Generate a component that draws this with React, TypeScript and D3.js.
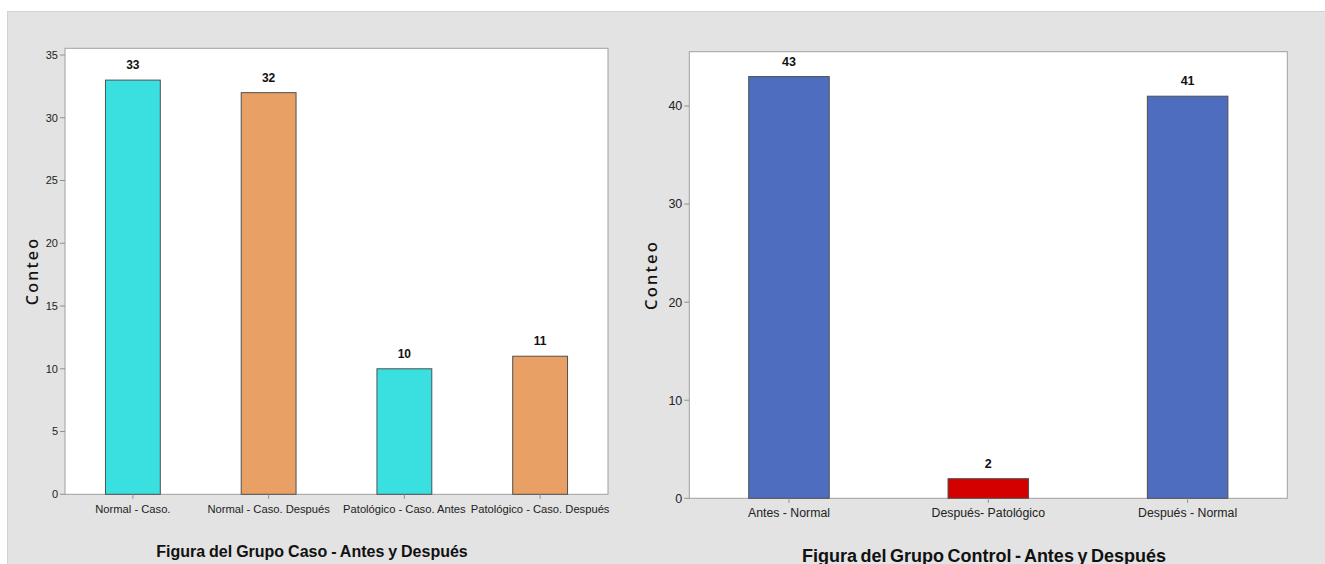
import React from "react";
import * as d3 from "d3";

const leftCategories = [
  "Normal - Caso.",
  "Normal - Caso. Después",
  "Patológico - Caso. Antes",
  "Patológico - Caso. Después",
];
const leftValues = [33, 32, 10, 11];
const leftColors = ["#3adfe0", "#e8a065", "#3adfe0", "#e8a065"];
const leftTicks = [0, 5, 10, 15, 20, 25, 30, 35];
const leftTitle = "Figura del Grupo Caso - Antes y Después";

const rightCategories = ["Antes - Normal", "Después- Patológico", "Después - Normal"];
const rightValues = [43, 2, 41];
const rightColors = ["#4e6dbf", "#d40000", "#4e6dbf"];
const rightTicks = [0, 10, 20, 30, 40];
const rightTitle = "Figura del Grupo Control - Antes y Después";

const axisTitle = "Conteo";
const FONT = "'Liberation Sans', Arial, sans-serif";

type PanelProps = {
  categories: string[];
  values: number[];
  colors: string[];
  ticks: number[];
  title: string;
  x0: number;
  x1: number;
  top: number;
  base: number;
  yMaxTick: number;
  yMaxTickPos: number;
  tickFont: number;
  catFont: number;
  valFont: number;
  axisTitleX: number;
  axisTitleY: number;
  axisTitleFont: number;
  titleX: number;
  titleY: number;
  titleFont: number;
  titleWordSpacing: number;
};

function Panel(p: PanelProps) {
  const y = d3.scaleLinear().domain([0, p.yMaxTick]).range([p.base, p.yMaxTickPos]);
  const x = d3.scaleBand<string>().domain(p.categories).range([p.x0, p.x1]).padding(0);
  const bw = x.bandwidth() * 0.404;
  return (
    <g>
      <rect x={p.x0} y={p.top} width={p.x1 - p.x0} height={p.base - p.top} fill="#ffffff" stroke="#a0a0a0" strokeWidth={1} />
      {p.ticks.map((t) => (
        <g key={t}>
          <line x1={p.x0 - 5} x2={p.x0} y1={y(t)} y2={y(t)} stroke="#909090" strokeWidth={1} />
          <text x={p.x0 - 7} y={y(t)} dy="0.35em" textAnchor="end" fontSize={p.tickFont} fontFamily={FONT} fill="#222">
            {t}
          </text>
        </g>
      ))}
      {p.categories.map((c, i) => {
        const cx = (x(c) as number) + x.bandwidth() / 2;
        const v = p.values[i];
        return (
          <g key={c}>
            <rect x={cx - bw / 2} y={y(v)} width={bw} height={p.base - y(v)} fill={p.colors[i]} stroke="#505050" strokeWidth={1} />
            <text x={cx} y={y(v) - 11} textAnchor="middle" fontSize={p.valFont} fontWeight="bold" fontFamily={FONT} fill="#111">
              {v}
            </text>
            <line x1={cx} x2={cx} y1={p.base} y2={p.base + 4.5} stroke="#909090" strokeWidth={1} />
            <text x={cx} y={p.base + 18.5} textAnchor="middle" fontSize={p.catFont} fontFamily={FONT} fill="#222">
              {c}
            </text>
          </g>
        );
      })}
      <text
        transform={`translate(${p.axisTitleX},${p.axisTitleY}) rotate(-90)`}
        textAnchor="middle"
        dy="0.35em"
        fontSize={p.axisTitleFont}
        letterSpacing={2.2}
        fontWeight={500}
        fontFamily="'Noto Sans', 'Open Sans', sans-serif"
        fill="#111"
      >
        {axisTitle}
      </text>
      <text
        x={p.titleX}
        y={p.titleY}
        textAnchor="middle"
        fontSize={p.titleFont}
        fontWeight="bold"
        wordSpacing={p.titleWordSpacing}
        fontFamily={FONT}
        fill="#111"
      >
        {p.title}
      </text>
    </g>
  );
}

export default function App() {
  return (
    <svg width={1325} height={564} style={{ position: "absolute", left: 0, top: 0, display: "block" }}>
      <rect x={0} y={0} width={1325} height={564} fill="#ffffff" />
      <rect x={7} y={11} width={1318} height={553} fill="#e3e3e3" />
      <line x1={7} x2={1325} y1={11.5} y2={11.5} stroke="#d2d2d2" />
      <line x1={7.5} x2={7.5} y1={11} y2={564} stroke="#d2d2d2" />
      <Panel
        categories={leftCategories}
        values={leftValues}
        colors={leftColors}
        ticks={leftTicks}
        title={leftTitle}
        x0={65}
        x1={608}
        top={48.3}
        base={494.3}
        yMaxTick={35}
        yMaxTickPos={55}
        tickFont={11}
        catFont={11.2}
        valFont={12}
        axisTitleX={32.5}
        axisTitleY={271}
        axisTitleFont={16}
        titleX={312}
        titleY={557}
        titleFont={16}
        titleWordSpacing={-0.5}
      />
      <Panel
        categories={rightCategories}
        values={rightValues}
        colors={rightColors}
        ticks={rightTicks}
        title={rightTitle}
        x0={689.3}
        x1={1287.3}
        top={51.7}
        base={498.3}
        yMaxTick={40}
        yMaxTickPos={106}
        tickFont={12.5}
        catFont={12.3}
        valFont={12.5}
        axisTitleX={651.7}
        axisTitleY={275}
        axisTitleFont={16.5}
        titleX={984}
        titleY={561.5}
        titleFont={18}
        titleWordSpacing={-1.5}
      />
    </svg>
  );
}
